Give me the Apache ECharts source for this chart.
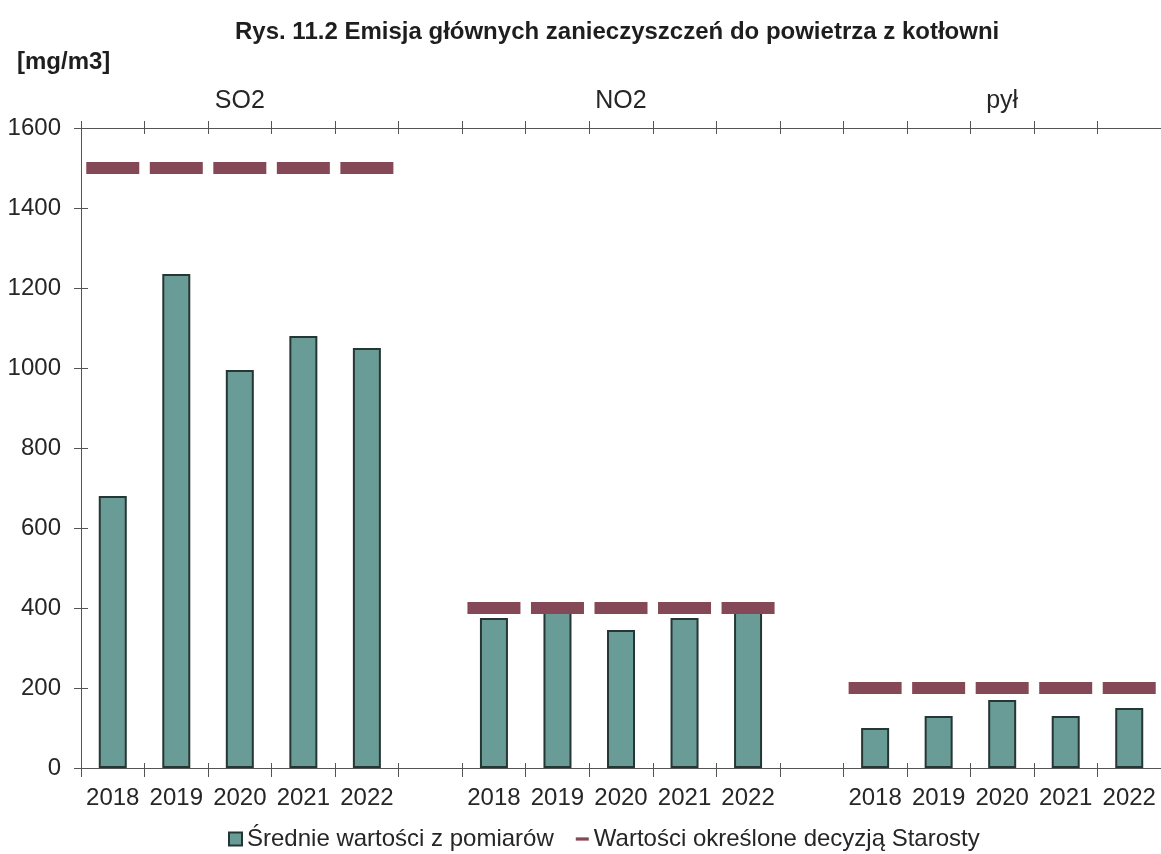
<!DOCTYPE html>
<html>
<head>
<meta charset="utf-8">
<script src="https://cdn.jsdelivr.net/npm/echarts@6/dist/echarts.min.js"></script>
<style>
html,body{margin:0;padding:0;background:#fff;}
#chart{width:1161px;height:854px;}
</style>
</head>
<body>
<div id="chart"></div>
<script>
// ---- data ----
const years = ['2018', '2019', '2020', '2021', '2022'];
const groupNames = ['SO2', 'NO2', 'pył'];
const so2Measured = [680, 1235, 995, 1080, 1050];
const no2Measured = [375, 390, 345, 375, 390];
const pylMeasured = [100, 130, 170, 130, 150];
const so2Limit = [1500, 1500, 1500, 1500, 1500];
const no2Limit = [400, 400, 400, 400, 400];
const pylLimit = [200, 200, 200, 200, 200];
const seriesNames = ['Średnie wartości z pomiarów', 'Wartości określone decyzją Starosty'];
const yMin = 0, yMax = 1600, yStep = 200;

// ---- build slotted category arrays ----
const measuredGroups = [so2Measured, no2Measured, pylMeasured];
const limitGroups = [so2Limit, no2Limit, pylLimit];
const categories = [], topLabels = [], measured = [], limits = [];
groupNames.forEach((g, gi) => {
  years.forEach((y, yi) => {
    categories.push(y);
    topLabels.push(yi === 2 ? g : '');
    measured.push(measuredGroups[gi][yi]);
    limits.push(limitGroups[gi][yi]);
  });
  if (gi < groupNames.length - 1) {
    categories.push(' ');
    topLabels.push('');
    measured.push(null);
    limits.push(null);
  }
});

const FONT = 'Liberation Sans, Arial, sans-serif';
const TXT = '#262626';
const AX = '#555';
const BAR = '#6a9c97';
const BAR_BORDER = '#263634';
const LIM = '#844856';

const chart = echarts.init(document.getElementById('chart'));
const gridBox = { left: 81, top: 128, width: 1086, height: 640 };

chart.setOption({
  backgroundColor: '#fff',
  animation: false,
  title: [
    { text: 'Rys. 11.2 Emisja głównych zanieczyszczeń do powietrza z kotłowni',
      left: 230, top: 15,
      textStyle: { fontFamily: FONT, fontSize: 24, fontWeight: 'bold', color: '#1e1e1e' } },
    { text: '[mg/m3]', left: 12, top: 45,
      textStyle: { fontFamily: FONT, fontSize: 24, fontWeight: 'bold', color: '#1e1e1e' } }
  ],
  legend: {
    left: 223, top: 822,
    itemWidth: 13, itemHeight: 13, itemGap: 22,
    textStyle: { fontFamily: FONT, fontSize: 24, color: TXT },
    data: [
      { name: seriesNames[0], icon: 'rect' },
      { name: seriesNames[1], icon: 'path://M0,0 L12,0 L12,3 L0,3 Z' }
    ]
  },
  grid: gridBox,
  xAxis: [
    { type: 'category', position: 'bottom', data: categories,
      axisLine: { show: true, onZero: false, lineStyle: { color: AX, width: 1 } },
      axisTick: { show: true, interval: 0, length: 9, lineStyle: { color: AX, width: 1 } },
      axisLabel: { interval: 0, margin: 18, fontFamily: FONT, fontSize: 24, color: TXT } },
    { type: 'category', position: 'top', data: topLabels,
      axisLine: { show: true, onZero: false, lineStyle: { color: AX, width: 1 } },
      axisTick: { show: true, interval: 0, length: 7, lineStyle: { color: AX, width: 1 } },
      axisLabel: { interval: 0, margin: 14, fontFamily: FONT, fontSize: 25, color: TXT } },
    { type: 'category', position: 'bottom', data: categories,
      axisLine: { show: true, onZero: false, lineStyle: { color: AX, width: 1 } },
      axisTick: { show: true, interval: 0, inside: true, length: 5, lineStyle: { color: AX, width: 1 } },
      axisLabel: { show: false } },
    { type: 'category', position: 'top', data: topLabels,
      axisLine: { show: true, onZero: false, lineStyle: { color: AX, width: 1 } },
      axisTick: { show: true, interval: 0, inside: true, length: 6, lineStyle: { color: AX, width: 1 } },
      axisLabel: { show: false } }
  ],
  yAxis: [
    { type: 'value', position: 'left', min: yMin, max: yMax, interval: yStep,
      splitLine: { show: false },
      axisLine: { show: true, onZero: false, lineStyle: { color: AX, width: 1 } },
      axisTick: { show: true, length: 7, lineStyle: { color: AX, width: 1 } },
      axisLabel: { margin: 20, fontFamily: FONT, fontSize: 24, color: TXT,
                   formatter: v => String(v) } },
    { type: 'value', position: 'left', min: yMin, max: yMax, interval: yStep,
      splitLine: { show: false },
      axisLine: { show: true, onZero: false, lineStyle: { color: AX, width: 1 } },
      axisTick: { show: true, inside: true, length: 7, lineStyle: { color: AX, width: 1 } },
      axisLabel: { show: false } }
  ],
  series: [
    { name: seriesNames[0], type: 'bar', xAxisIndex: 0, yAxisIndex: 0,
      data: measured, barWidth: 28,
      itemStyle: { color: BAR, borderColor: BAR_BORDER, borderWidth: 2 } },
    { name: seriesNames[1], type: 'scatter', xAxisIndex: 0, yAxisIndex: 0,
      data: limits, symbol: 'rect', symbolSize: [53, 12], z: 5,
      itemStyle: { color: LIM, opacity: 1 } }
  ]
});
</script>
</body>
</html>
